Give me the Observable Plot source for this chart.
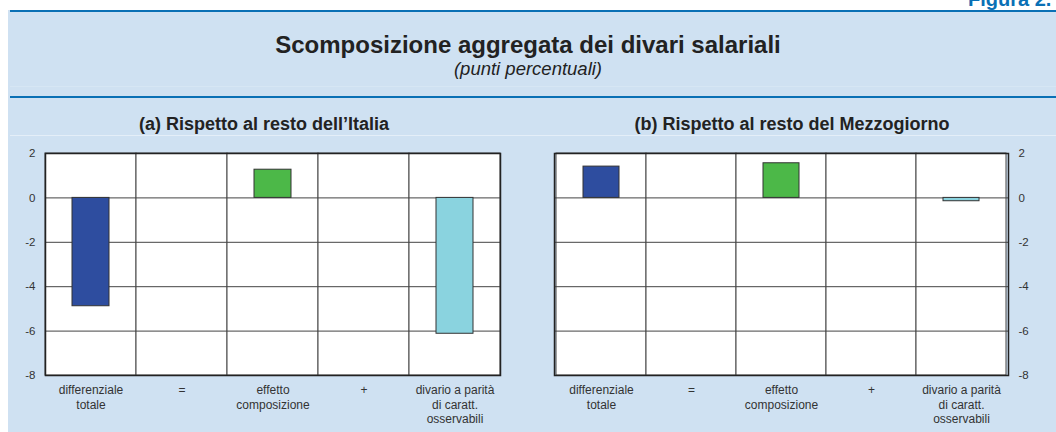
<!DOCTYPE html>
<html>
<head>
<meta charset="utf-8">
<script src="https://cdn.jsdelivr.net/npm/d3@7"></script>
<script src="https://cdn.jsdelivr.net/npm/@observablehq/plot@0.6"></script>
<style>
  html, body { margin: 0; padding: 0; background: #fff; }
  #fig { position: relative; width: 1056px; height: 432px; overflow: hidden; background: #fff;
         font-family: "Liberation Sans", Arial, sans-serif; color: #222; }
  .abs { position: absolute; }
</style>
</head>
<body>
<div id="fig">
  <div class="abs" style="left:8px; top:10px; right:0; bottom:0; background:#cfe1f2;"></div>
  <div class="abs" style="left:10px; top:10px; right:0; height:2px; background:#0a70b5;"></div>
  <div class="abs" style="left:10px; top:96px; right:0; height:2px; background:#0a70b5;"></div>
  <div class="abs" style="left:10px; top:86px; right:0; height:1px; background:#d6e6f4;"></div>
  <div class="abs" style="left:10px; top:135px; right:0; height:1px; background:#e4eef8;"></div>
  <div id="figlabel" class="abs" style="left:968px; top:-12px; font-weight:bold; font-size:20px; color:#0a70b5; white-space:nowrap;"></div>
  <div id="title" class="abs" style="left:0; width:1056px; top:31px; text-align:center; font-weight:bold; font-size:24px; color:#222;"></div>
  <div id="subtitle" class="abs" style="left:0; width:1056px; top:58px; text-align:center; font-style:italic; font-size:18.5px; color:#222;"></div>
  <div id="ptA" class="abs" style="left:0; width:528px; top:114px; text-align:center; font-weight:bold; font-size:18px; color:#222;"></div>
  <div id="ptB" class="abs" style="left:528px; width:528px; top:114px; text-align:center; font-weight:bold; font-size:18px; color:#222;"></div>
  <div id="chartA" class="abs" style="left:0; top:140px;"></div>
  <div id="chartB" class="abs" style="left:528px; top:140px;"></div>
</div>
<script>
const figureLabel = "Figura 2.";
const titleText = "Scomposizione aggregata dei divari salariali";
const subtitleText = "(punti percentuali)";
const panelTitles = ["(a) Rispetto al resto dell\u2019Italia", "(b) Rispetto al resto del Mezzogiorno"];
const categories = ["differenziale\ntotale", "=", "effetto\ncomposizione", "+", "divario a parit\u00e0\ndi caratt.\nosservabili"];
const barCategories = [categories[0], categories[2], categories[4]];
const italiaValues = [-4.88, 1.27, -6.12];
const mezzogiornoValues = [1.41, 1.56, -0.15];
const barColors = ["#2e4d9f", "#4cb848", "#8ad3df"];
const yTicks = [-8, -6, -4, -2, 0, 2];
const yDomain = [-8, 2];

document.getElementById("figlabel").textContent = figureLabel;
document.getElementById("title").textContent = titleText;
document.getElementById("subtitle").textContent = subtitleText;
document.getElementById("ptA").textContent = panelTitles[0];
document.getElementById("ptB").textContent = panelTitles[1];

function panel(values, side) {
  const data = barCategories.map((c, i) => ({cat: c, value: values[i], color: barColors[i]}));
  const left = side === "left";
  return Plot.plot({
    width: 528,
    height: 292,
    marginTop: 13,
    marginBottom: 57,
    marginLeft: left ? 45 : 26,
    marginRight: left ? 28 : 48,
    style: {fontFamily: "'Liberation Sans', Arial, sans-serif", background: "transparent", color: "#333", overflow: "visible"},
    x: {domain: categories, padding: 0},
    y: {domain: yDomain},
    marks: [
      Plot.barY(categories, {x: d => d, y1: yDomain[0], y2: yDomain[1], fill: "white", stroke: "#444", strokeWidth: 1}),
      Plot.ruleY(yTicks, {stroke: "#444", strokeWidth: 1}),
      Plot.barY(data, {x: "cat", y: "value", fill: "color", stroke: "#333", strokeWidth: 1, insetLeft: 27, insetRight: 27}),
      Plot.frame({stroke: "#222", strokeWidth: 1.5}),
      Plot.axisY({anchor: side, ticks: yTicks, tickSize: 0, tickPadding: 10, label: null, fontSize: 11.5, tickFormat: d => String(d)}),
      Plot.axisX({tickSize: 0, tickPadding: 8, label: null, fontSize: 12, lineHeight: 1.22})
    ]
  });
}

document.getElementById("chartA").appendChild(panel(italiaValues, "left"));
document.getElementById("chartB").appendChild(panel(mezzogiornoValues, "right"));
</script>
</body>
</html>
